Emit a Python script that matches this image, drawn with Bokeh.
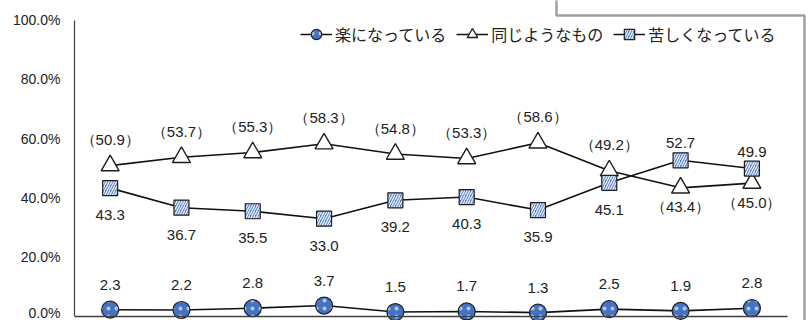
from bokeh.plotting import figure
from bokeh.models import (Range1d, FixedTicker, PrintfTickFormatter, Legend, LegendItem,
                          ColumnDataSource)
from bokeh.core.properties import value
from bokeh.embed import file_html
from bokeh.resources import INLINE

# ---- data ----
positions = list(range(10))
easier = [2.3, 2.2, 2.8, 3.7, 1.5, 1.7, 1.3, 2.5, 1.9, 2.8]
same = [50.9, 53.7, 55.3, 58.3, 54.8, 53.3, 58.6, 49.2, 43.4, 45.0]
harder = [43.3, 36.7, 35.5, 33.0, 39.2, 40.3, 35.9, 45.1, 52.7, 49.9]
series_names = ["楽になっている", "同じようなもの", "苦しくなっている"]
y_ticks = [0, 20, 40, 60, 80, 100]

BLUE = "#4472C4"
EDGE = "#1e1e1e"
NUM_FONT = "Liberation Sans"
JP_FONT = "Noto Sans CJK JP"

X0, X1 = -0.5, 9.794
Y0, Y1 = -1.35, 106.6

p = figure(width=808, height=320, output_backend="svg", toolbar_location=None,
           x_range=Range1d(X0, X1), y_range=Range1d(Y0, Y1),
           min_border_left=74, min_border_right=0, min_border_top=0, min_border_bottom=0)
p.outline_line_color = None
p.grid.visible = False
p.background_fill_color = "white"
p.border_fill_color = "white"

# y axis
ya = p.yaxis[0]
ya.ticker = FixedTicker(ticks=y_ticks)
ya.formatter = PrintfTickFormatter(format="%.1f%%")
ya.bounds = (0, 100)
ya.major_tick_line_color = None
ya.minor_tick_line_color = None
ya.major_tick_out = 0
ya.major_tick_in = 0
ya.major_label_standoff = 14
ya.major_label_text_font = NUM_FONT
ya.major_label_text_font_size = "14px"
ya.major_label_text_color = "#222222"
ya.axis_line_color = "#404040"
ya.axis_line_width = 1.2

# x axis (baseline only)
xa = p.xaxis[0]
xa.ticker = FixedTicker(ticks=[])
xa.fixed_location = 0
xa.bounds = (-0.5, 9.5)
xa.major_tick_line_color = None
xa.minor_tick_line_color = None
xa.major_tick_out = 0
xa.major_label_standoff = 0
xa.major_label_text_font_size = "0px"
xa.axis_line_color = "#404040"
xa.axis_line_width = 1.5

# grey frame fragments visible in the original screenshot (pixel positions -> data units)
def dx(px):
    return X0 + (px - 74) * (X1 - X0) / 734.0

def dy(py):
    return Y0 + (320 - py) * (Y1 - Y0) / 320.0

p.line([dx(556), dx(556), dx(804), dx(804)], [dy(-10), dy(15), dy(15), dy(340)],
       line_color="#a0a0a0", line_width=2.5)

# label rules
def fmt(v):
    return f"{v:.1f}"

same_off = [-26 if s > h else 19 for s, h in zip(same, harder)]
harder_off = [27 if h < s else -17 for s, h in zip(same, harder)]

src_e = ColumnDataSource(dict(x=positions, y=easier, t=[fmt(v) for v in easier],
                              off=[-25] * len(easier)))
src_s = ColumnDataSource(dict(x=positions, y=same, t=[f"（{fmt(v)}）" for v in same], off=same_off))
src_h = ColumnDataSource(dict(x=positions, y=harder, t=[fmt(v) for v in harder], off=harder_off))

line_kw = dict(line_color="#111111", line_width=1.6)

le = p.line("x", "y", source=src_e, **line_kw)
se = p.scatter("x", "y", source=src_e, marker="circle", size=17, fill_color=BLUE,
               line_color=EDGE, line_width=1.2, hatch_pattern="dot", hatch_color="white",
               hatch_scale=8, hatch_weight=0.8, hatch_alpha=0.6)

ls = p.line("x", "y", source=src_s, **line_kw)
ss = p.scatter("x", "y", source=src_s, marker="triangle", size=18, fill_color="white",
               line_color=EDGE, line_width=1.4)

lh = p.line("x", "y", source=src_h, **line_kw)
sh = p.scatter("x", "y", source=src_h, marker="square", size=15, fill_color=BLUE,
               line_color=EDGE, line_width=1.2, hatch_pattern="right_diagonal_line",
               hatch_color="white", hatch_scale=5, hatch_weight=1.5, hatch_alpha=0.85)

for src in (src_e, src_s, src_h):
    p.text("x", "y", text="t", source=src, y_offset="off", text_align="center",
           text_baseline="middle", text_font=value(NUM_FONT), text_font_size="15px",
           text_color="#222222")

legend = Legend(items=[LegendItem(label=series_names[0], renderers=[le, se]),
                       LegendItem(label=series_names[1], renderers=[ls, ss]),
                       LegendItem(label=series_names[2], renderers=[lh, sh])],
                orientation="horizontal", location=(226, 273),
                glyph_width=32, glyph_height=26, label_height=26, label_standoff=3,
                spacing=10, padding=0, margin=0,
                label_text_font=JP_FONT, label_text_font_size="16px",
                label_text_color="#222222",
                border_line_color=None, background_fill_alpha=0)
p.add_layout(legend)

open("out.html", "w").write(file_html(p, INLINE))
